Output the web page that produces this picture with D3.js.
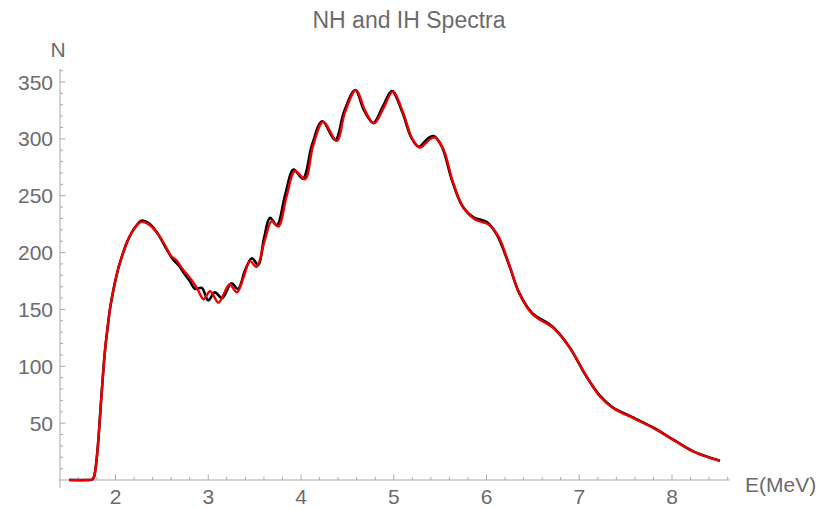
<!DOCTYPE html>
<html><head><meta charset="utf-8">
<script src="https://cdn.jsdelivr.net/npm/d3@7"></script>
<style>
html,body{margin:0;padding:0;background:#fff;}
text{font-family:"Liberation Sans",Arial,sans-serif;fill:#6b6b6b;}
</style></head>
<body><svg id="c" width="818" height="508"></svg>
<script>
// Energy grid (MeV) and counts for the IH curve (red)
const ihE = [1.50,1.70,1.745,1.765,1.785,1.81,1.833,1.86,1.887,1.915,1.94,1.97,1.995,2.03,2.067,2.10,2.14,2.21,2.28,2.37,2.46,2.55,2.60,2.66,2.71,2.77,2.84,2.89,2.95,3.02,3.11,3.17,3.23,3.31,3.38,3.45,3.52,3.61,3.684,3.755,3.846,3.935,4.043,4.13,4.24,4.385,4.474,4.593,4.69,4.787,4.89,4.99,5.10,5.20,5.283,5.39,5.445,5.534,5.64,5.75,5.876,6.02,6.127,6.25,6.36,6.50,6.72,6.90,7.08,7.224,7.367,7.583,7.80,8.014,8.23,8.517];
const ihN = [0,0,0.3,2,10,30,56,87,114,134,150,164,174,186,196,204,212,222,227,224,216,204,197,193,187,181,173.5,167,159,166,156,164,172,165,178,192.5,187.5,211,227.7,222.8,249.8,271.8,264.5,293.8,315,298.3,323.3,343,325,313.6,327,341.5,323.3,300,292.4,299.7,301.2,291,261.6,239.5,229.2,224.8,214.5,188,163,145.5,133.7,116,91,73.4,63.2,54.4,45.6,35.3,25,16.8];
// Energy grid (MeV) and counts for the NH curve (black)
const nhE = [1.50,1.70,1.745,1.765,1.785,1.81,1.833,1.86,1.887,1.915,1.94,1.97,1.995,2.03,2.067,2.10,2.14,2.21,2.28,2.37,2.46,2.55,2.62,2.68,2.73,2.80,2.86,2.93,3.00,3.07,3.15,3.25,3.32,3.40,3.47,3.54,3.60,3.666,3.74,3.83,3.92,4.02,4.12,4.23,4.37,4.465,4.585,4.68,4.78,4.88,4.98,5.09,5.19,5.27,5.37,5.43,5.52,5.63,5.74,5.86,6.00,6.11,6.24,6.35,6.49,6.71,6.89,7.07,7.22,7.36,7.58,7.80,8.014,8.23,8.517];
const nhN = [0,0,0.3,2,10,30,56,87,114,134,150,164,174,186,196,204,212,222,228,225,216,203,194,189,183,175,168,169,158,165,160,173,168,185,195,189,212,230.5,224,251,273,265,295,315.5,299,324,343,325,314,328,342,324,301,293,300.5,302.5,293,263,241,231,227,216,190,165,147,135,117.5,92,74.5,64,55,46,35.5,25.2,16.9];
const xMajor = [2,3,4,5,6,7,8];
const yMajor = [50,100,150,200,250,300,350];
const title = "NH and IH Spectra";
const xLabel = "E(MeV)";
const yLabel = "N";

const svg = d3.select("#c");
const x = d3.scaleLinear().domain([2,8]).range([115.5,672]);
const y = d3.scaleLinear().domain([0,350]).range([480,82]);
const axisCol = "#a8a8a8";

// title
svg.append("text").attr("x",409).attr("y",28).attr("text-anchor","middle")
  .style("font-size","23px").text(title);

// x axis line
const xs = x.invert(60), xe = 8.62;
svg.append("line").attr("x1",x(xs)).attr("x2",x(xe)).attr("y1",y(0)).attr("y2",y(0))
  .attr("stroke",axisCol).attr("stroke-width",1);
// y axis line
svg.append("line").attr("x1",x(xs)).attr("x2",x(xs)).attr("y1",y(-7)).attr("y2",y(361.5))
  .attr("stroke",axisCol).attr("stroke-width",1);

// x ticks
const xMinor = d3.range(7,44).map(i=>i/5).filter(v=>v>=xs-1e-9 && v<=xe && Math.abs(v-Math.round(v))>1e-6);
svg.append("g").selectAll("line").data(xMinor).join("line")
  .attr("x1",d=>x(d)).attr("x2",d=>x(d)).attr("y1",y(0)).attr("y2",y(0)-3)
  .attr("stroke",axisCol);
svg.append("g").selectAll("line").data(xMajor).join("line")
  .attr("x1",d=>x(d)).attr("x2",d=>x(d)).attr("y1",y(0)).attr("y2",y(0)-5.5)
  .attr("stroke",axisCol);
svg.append("g").selectAll("text").data(xMajor).join("text")
  .attr("x",d=>x(d)).attr("y",504).attr("text-anchor","middle")
  .style("font-size","21px").text(d=>d);

// y ticks
const yMinor = d3.range(1,37).map(i=>i*10).filter(v=>v%50!==0);
svg.append("g").selectAll("line").data(yMinor).join("line")
  .attr("x1",x(xs)).attr("x2",x(xs)+3).attr("y1",d=>y(d)).attr("y2",d=>y(d))
  .attr("stroke",axisCol);
svg.append("g").selectAll("line").data(yMajor).join("line")
  .attr("x1",x(xs)).attr("x2",x(xs)+5.5).attr("y1",d=>y(d)).attr("y2",d=>y(d))
  .attr("stroke",axisCol);
svg.append("g").selectAll("text").data(yMajor).join("text")
  .attr("x",53).attr("y",d=>y(d)+7.5).attr("text-anchor","end")
  .style("font-size","21px").text(d=>d);

// axis labels
svg.append("text").attr("x",58).attr("y",56.5).attr("text-anchor","middle")
  .style("font-size","21px").text(yLabel);
svg.append("text").attr("x",745).attr("y",492).attr("text-anchor","start")
  .style("font-size","21px").text(xLabel);

// curves
const line = d3.line().x(d=>x(d[0])).y(d=>y(d[1])).curve(d3.curveCatmullRom.alpha(0.5));
const nh = nhE.map((e,i)=>[e,nhN[i]]);
const ih = ihE.map((e,i)=>[e,ihN[i]]);
svg.append("path").datum(nh).attr("d",line).attr("fill","none")
  .attr("stroke","#000").attr("stroke-width",2.6).attr("stroke-linejoin","round");
svg.append("path").datum(ih).attr("d",line).attr("fill","none")
  .attr("stroke","#ee0000").attr("stroke-width",2.4).attr("stroke-linejoin","round");
</script></body></html>
